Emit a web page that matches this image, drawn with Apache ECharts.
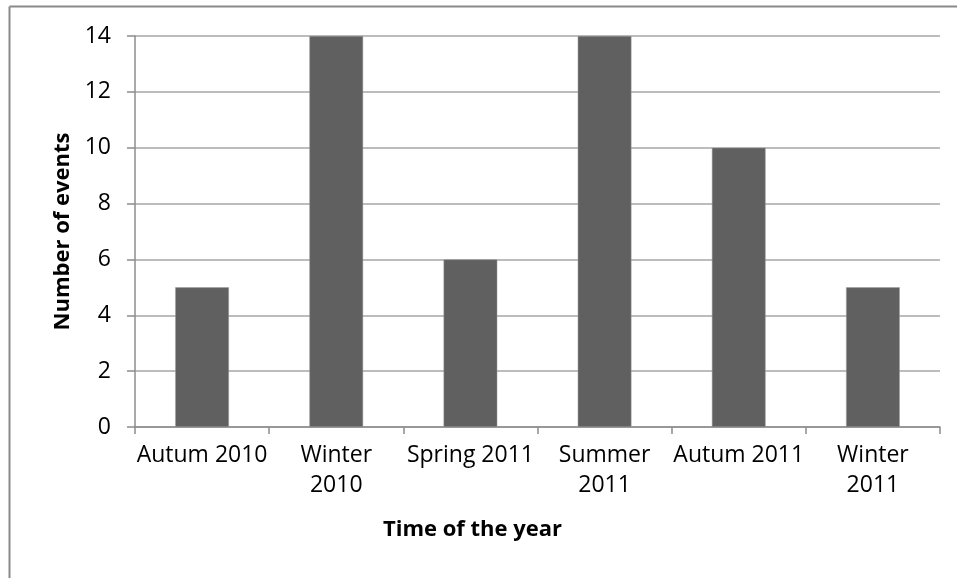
<!DOCTYPE html>
<html>
<head>
<meta charset="utf-8">
<script src="https://cdn.jsdelivr.net/npm/echarts@6/dist/echarts.min.js"></script>
<style>
  html, body { margin: 0; padding: 0; background: #ffffff; }
  #chart { width: 957px; height: 578px; }
</style>
</head>
<body>
<div id="chart"></div>
<script>
// Seasons on the category axis (two-line labels where the text wraps)
const categories = ['Autum 2010', 'Winter\n2010', 'Spring 2011', 'Summer\n2011', 'Autum 2011', 'Winter\n2011'];
// Number of events per season
const eventCounts = [5, 14, 6, 14, 10, 5];
// Value axis ticks
const yMin = 0;
const yMax = 14;
const yStep = 2;

const FONT = '"Open Sans", "Liberation Sans", sans-serif';

const chart = echarts.init(document.getElementById('chart'), null, { renderer: 'canvas' });

chart.setOption({
  animation: false,
  backgroundColor: '#ffffff',
  // Frame around the chart area (left and top edges)
  graphic: [
    { type: 'line', shape: { x1: 9.5, y1: 6.5, x2: 9.5, y2: 578 }, style: { stroke: '#8a8a8a', lineWidth: 2 } },
    { type: 'line', shape: { x1: 9.5, y1: 6.5, x2: 957, y2: 6.5 }, style: { stroke: '#8a8a8a', lineWidth: 2 } }
  ],
  grid: { left: 135, right: 17, top: 36, bottom: 151, containLabel: false },
  xAxis: {
    type: 'category',
    data: categories,
    name: 'Time of the year',
    nameLocation: 'middle',
    nameGap: 92,
    // shifted left so the title sits centred on the whole chart area
    nameTextStyle: { fontFamily: FONT, fontSize: 22, fontWeight: 'bold', color: '#000', padding: [0, 130, 0, 0] },
    axisLine: { lineStyle: { color: '#8c8c8c', width: 1.5 } },
    axisTick: { show: true, length: 7, lineStyle: { color: '#8c8c8c', width: 1.5 } },
    axisLabel: { fontFamily: FONT, fontSize: 23, color: '#000', margin: 13, lineHeight: 30, interval: 0 }
  },
  yAxis: {
    type: 'value',
    min: yMin,
    max: yMax,
    interval: yStep,
    name: 'Number of events',
    nameLocation: 'middle',
    nameGap: 61,
    nameTextStyle: { fontFamily: FONT, fontSize: 22, fontWeight: 'bold', color: '#000' },
    axisLine: { show: true, lineStyle: { color: '#8c8c8c', width: 1.5 } },
    axisTick: { show: true, length: 8, lineStyle: { color: '#8c8c8c', width: 1.5 } },
    axisLabel: { fontFamily: FONT, fontSize: 23, color: '#000', margin: 24 },
    splitLine: { show: true, lineStyle: { color: '#a6a6a6', width: 1.5 } }
  },
  series: [{
    type: 'bar',
    data: eventCounts,
    barWidth: '40%',
    itemStyle: { color: '#606060', borderColor: '#9a9a9a', borderWidth: 0.5 }
  }]
});
</script>
</body>
</html>
